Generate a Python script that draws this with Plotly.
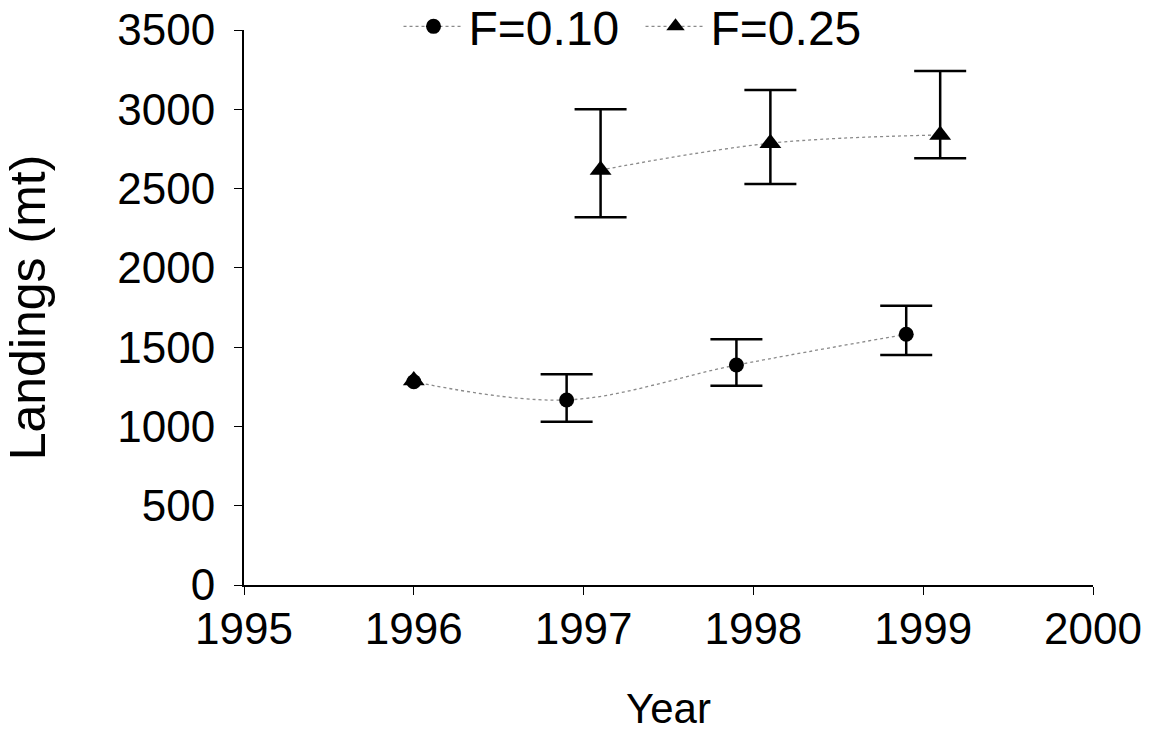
import plotly.graph_objects as go

# Projected landings (mt) under two fishing mortality rates
years_f10 = [1996, 1996.9, 1997.9, 1998.9]
land_f10 = [1282, 1167, 1387, 1581]
upper_f10 = [None, 1329, 1549, 1761]
lower_f10 = [None, 1030, 1257, 1450]

years_f25 = [1996, 1997.1, 1998.1, 1999.1]
land_f25 = [1290, 2617, 2786, 2838]
upper_f25 = [None, 3000, 3122, 3241]
lower_f25 = [None, 2319, 2529, 2691]

x_ticks = [1995, 1996, 1997, 1998, 1999, 2000]
y_ticks = [0, 500, 1000, 1500, 2000, 2500, 3000, 3500]

FONT = "Liberation Sans, Arial, sans-serif"


def with_bars(xs, vals, hi, lo):
    """Points that carry an interval, with the +/- extents of each bar."""
    keep = [i for i, h in enumerate(hi) if h is not None]
    return ([xs[i] for i in keep], [vals[i] for i in keep],
            [hi[i] - vals[i] for i in keep], [vals[i] - lo[i] for i in keep])


line_style = dict(color="#8a8a8a", width=1.3, dash="dot", shape="spline")
bar_style = dict(color="black", thickness=2.5, width=26)

fig = go.Figure()

# Interval bars (the first projected year has none)
for xs, vals, hi, lo in [(years_f10, land_f10, upper_f10, lower_f10),
                         (years_f25, land_f25, upper_f25, lower_f25)]:
    bx, by, plus, minus = with_bars(xs, vals, hi, lo)
    fig.add_trace(go.Scatter(
        x=bx, y=by, mode="markers", showlegend=False, hoverinfo="skip",
        marker=dict(size=1, color="rgba(0,0,0,0)"),
        error_y=dict(type="data", symmetric=False, array=plus, arrayminus=minus,
                     **bar_style),
    ))

# F=0.10: circles joined by a smoothed dotted line
fig.add_trace(go.Scatter(
    x=years_f10, y=land_f10, name="F=0.10", mode="lines+markers",
    line=line_style,
    marker=dict(symbol="circle", size=15, color="black"),
))

# F=0.25: line only across the later projected years
fig.add_trace(go.Scatter(
    x=years_f25[1:], y=land_f25[1:], name="F=0.25", mode="lines+markers",
    line=line_style,
    marker=dict(symbol="triangle-up", size=19, color="black"),
))
fig.add_trace(go.Scatter(
    x=years_f25[:1], y=land_f25[:1], mode="markers", showlegend=False,
    marker=dict(symbol="triangle-up", size=19, color="black"),
))

fig.update_layout(
    width=1151, height=736,
    margin=dict(l=243.5, r=58, t=30, b=151, pad=0, autoexpand=False),
    paper_bgcolor="white", plot_bgcolor="white",
    font=dict(family=FONT, color="black", size=44),
    showlegend=True,
    legend=dict(
        orientation="h", x=0.182, xanchor="left",
        y=1.006, yanchor="middle",
        font=dict(size=48, family=FONT), bgcolor="rgba(0,0,0,0)",
        itemwidth=60, entrywidth=167, traceorder="normal",
    ),
    xaxis=dict(
        range=[1995, 2000], tickvals=x_ticks, ticktext=[str(v) for v in x_ticks],
        showgrid=False, zeroline=False, showline=True, linecolor="black",
        linewidth=2, ticks="outside", ticklen=8, tickwidth=1, tickcolor="black",
        tickfont=dict(size=44), ticklabelstandoff=-4,
        title=dict(text="Year", font=dict(size=42), standoff=42),
    ),
    yaxis=dict(
        range=[0, 3500], tickvals=y_ticks, ticktext=[str(v) for v in y_ticks],
        showgrid=False, zeroline=False, showline=True, linecolor="black",
        linewidth=2, ticks="outside", ticklen=8, tickwidth=1, tickcolor="black",
        tickfont=dict(size=44), ticklabelstandoff=10,
        title=dict(text="Landings (mt)", font=dict(size=50), standoff=60),
    ),
)

fig.write_html("out.html")
